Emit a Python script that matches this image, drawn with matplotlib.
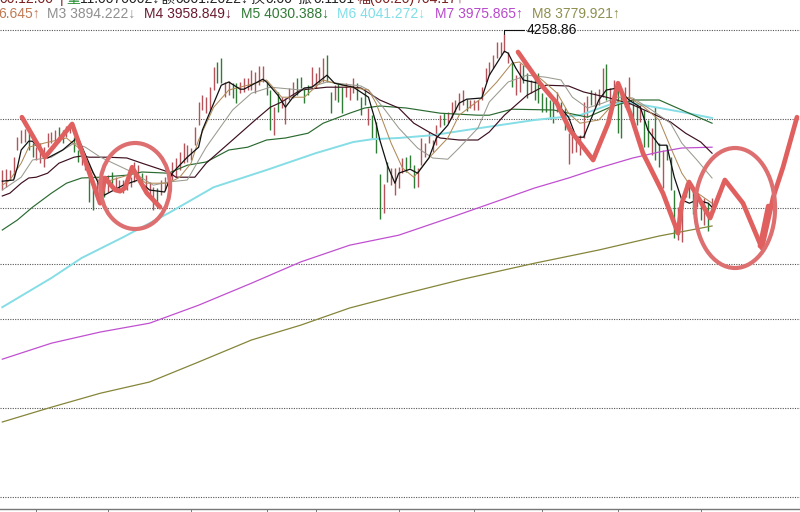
import matplotlib
matplotlib.use("Agg")
import matplotlib.pyplot as plt
from matplotlib.patches import Ellipse

plt.rcParams['font.family'] = ['Liberation Sans', 'DejaVu Sans']

high_a = [3920,3922,3920,3952,4002,4020,4022,4012,3987,3977,3987,3977,4012,4015,4020,4027,4020,4030,4037,4002,3970,3965,3957,3902,3895,3890,3877,3895,3907,3915,3902,3895,3895,3900,3902,3940,3932,3912,3907,3890,3877,3875,3895,3902,3920,3940,3950,3965]
low_a = [3870,3877,3895,3900,3970,3987,3990,3970,3952,3945,3937,3927,3977,3987,3990,3990,3987,4002,4012,3965,3940,3932,3920,3840,3820,3845,3837,3852,3865,3877,3875,3870,3862,3870,3877,3890,3895,3875,3862,3850,3820,3827,3857,3870,3882,3895,3902,3920]
dir_a = "rrrrrrrggrrrrrrggrrggrrggrrgrgrrrrrrrgrrrgrrrrrr"

high_b = [3987,3982,3975,4027,4090,4107,4102,4127,4177,4190,4200,4140,4142,4137,4137,4140,4150,4150,4170,4165,4180,4180,4140,4120,4077,4115,4102,4100,4125,4140,4150,4152,4125,4132,4177,4162,4177,4200,4207,4115,4132,4137,4127,4137,4132]
low_b = [3937,3940,3945,3982,4032,4070,4062,4070,4120,4137,4137,4102,4107,4100,4087,4112,4115,4120,4120,4112,4132,4140,4107,4020,4007,4065,4075,4035,4095,4100,4107,4125,4087,4107,4127,4125,4137,4140,4140,4062,4095,4090,4062,4102,4095]
dir_b = "rrrrrrrrrggrrggrrrrrrrggrgrrrrggggrrrrggrggrr"

high_c = [4150,4137,4102,4120,4075,4057,4040,3910,3885,3940,3925,3925,3927,3950,3952,3957,3932,3925,4000,3987,4015,3995,4032,4057,4062,4065,4090,4095,4112,4120,4097,4095,4095,4095,4127,4175,4190,4207,4240,4240,4258.86,4215,4190,4157,4187,4182,4162]
low_c = [4112,4095,4057,4082,4032,4000,3962,3797,3812,3890,3882,3857,3875,3912,3915,3925,3875,3877,3932,3952,3987,3965,3982,4027,4032,4037,4050,4065,4070,4082,4067,4075,4070,4070,4095,4140,4157,4175,4200,4207,4215,4187,4127,4107,4115,4137,4100]
dir_c = "rgggrgggrgrrrrgggrrrrrrrgrrrrrgrrrrrrrrrrrgrrgg"

high_d = [4145,4152,4162,4112,4102,4095,4095,4115,4090,4075,4012,4012,4000,4007,4090,4105,4120,4115,4122,4175,4185,4125,4145,4120,4112,4127,4152,4100,4087,4082,4070,4045,4025,4077,3987,3970,3982,3952,3870,3827,3832,3887,3890,3870,3862,3845,3850,3837,3850]
low_d = [4112,4095,4087,4065,4065,4052,4037,4065,4057,4020,3935,3962,3965,3957,4000,4052,4082,4077,4082,4102,4095,4070,4087,4012,4000,4077,4082,4045,4032,4040,3977,3977,3957,3945,3927,3875,3945,3870,3750,3745,3740,3852,3850,3810,3827,3795,3782,3767,3825]
dir_d = "rggggggrggrrrrrrgrrrgrrggrrggrggrggrgggrrrggrgrgr"

highs = high_a + high_b + high_c + high_d
lows = low_a + low_b + low_c + low_d
dirs = dir_a + dir_b + dir_c + dir_d

m1_i = [0,3,4,5,7,8,12,16,20,24,27,32,36,39,43,45,49,52,53,56,58,60,63,64,69,70,73,75,77,80,82,86,88,93,97,99,100,102,104,105,108,110,113,115,118,121,123,127,129,133,134,136,138,142,145,150,152,154,158,160,163,166,169,171,174,176,178,180,182,184,187,188]
m1_v = [3892,3895,3927,3970,3992,3992,3950,3970,4002,3915,3857,3882,3895,3870,3865,3912,3952,3977,4020,4087,4132,4140,4122,4122,4147,4140,4107,4077,4102,4125,4127,4157,4137,4127,4102,4037,3995,3932,3887,3912,3922,3912,3950,4000,4032,4087,4097,4100,4157,4217,4212,4175,4145,4137,4107,4052,4002,4002,4095,4120,4125,4095,4077,4020,3982,3982,3902,3845,3837,3845,3837,3827]
m2_i = [0,2,5,7,11,17,20,22,24,26,29,35,38,44,47,50,52,56,60,65,70,74,80,85,92,97,99,103,106,109,113,118,121,127,131,135,137,139,143,147,150,153,158,162,166,170,174,177,180,183,188]
m2_v = [3882,3895,3937,3977,3987,4000,3977,3952,3912,3887,3895,3912,3887,3887,3902,3937,3995,4077,4120,4132,4145,4102,4102,4145,4127,4120,4087,3987,3925,3902,3950,4000,4057,4100,4140,4187,4190,4175,4145,4112,4062,4037,4045,4087,4102,4077,4045,3977,3912,3870,3837]
m3_i = [0,5,8,13,19,22,26,35,40,44,49,54,61,66,71,79,86,95,97,101,105,110,114,118,121,126,129,134,139,144,148,151,155,159,163,167,172,177,180,184,188]
m3_v = [3870,3902,3945,3952,3987,3977,3952,3912,3882,3890,3895,3977,4070,4112,4127,4120,4140,4130,4120,4075,4025,3975,3950,3947,3975,4025,4090,4140,4157,4152,4145,4102,4075,4087,4102,4100,4070,4037,3987,3945,3900]
m4_i = [0,2,5,7,9,12,15,19,21,23,28,33,37,44,46,51,54,61,67,71,74,79,86,93,95,100,105,109,113,116,121,126,129,133,139,144,150,154,160,166,172,177,181,185,188]
m4_v = [3855,3862,3887,3900,3902,3912,3937,3952,3955,3952,3952,3950,3937,3915,3902,3902,3937,3995,4045,4077,4090,4120,4127,4127,4125,4095,4075,4037,4015,4000,3995,3995,4015,4057,4107,4132,4130,4115,4102,4087,4062,4040,4012,3990,3962]
m5_i = [0,4,8,13,17,21,26,33,37,44,49,54,60,65,70,75,81,85,92,96,100,107,116,126,129,135,146,155,161,167,174,180,188]
m5_v = [3770,3795,3827,3862,3887,3900,3902,3907,3915,3912,3932,3940,3970,3977,3995,4000,4012,4037,4062,4075,4080,4075,4062,4057,4057,4072,4070,4052,4077,4095,4095,4070,4037]
m6_i = [0,13,21,32,44,56,70,83,93,98,105,114,123,141,153,162,167,173,180,188]
m6_v = [3577,3650,3700,3752,3812,3877,3920,3962,3990,3997,4000,4007,4020,4045,4057,4087,4087,4077,4065,4050]
m7_i = [0,13,26,39,52,66,79,92,105,119,132,141,150,158,167,174,180,188]
m7_v = [3447,3487,3515,3537,3582,3637,3690,3732,3757,3802,3845,3875,3900,3925,3950,3965,3975,3977]
m8_i = [0,13,26,39,52,66,79,92,105,122,141,158,174,188]
m8_v = [3290,3327,3362,3390,3440,3495,3532,3575,3607,3647,3687,3720,3755,3780]

stroke1_i = [5.2,11.3,18.5,25.9,27.2,29.9,31.2,32.5,34.4,38.3,41.8]
stroke1_v = [4052,3952,4035,3837,3900,3870,3867,3875,3927,3862,3827]
stroke2_i = [136.6,142.4,146.9,150.4,156.5,160.5,163.1,166.3,169.7,175,179,180,181.9,184.3,187.5,191.4,196.2,201.2,204.2,206.8,210.5]
stroke2_v = [4215,4137,4087,4020,3945,4037,4137,4062,3962,3862,3762,3837,3890,3852,3800,3895,3837,3725,3852,3927,4052]
stroke3_i = [200.7,202.9]
stroke3_v = [3730,3830]
ring1 = (35.2, 3880, 18.5, 215)
ring2 = (194.1, 3825, 21.2, 300)

grid_levels = [4270, 4047.5, 3825, 3685, 3547.5, 3325, 3102.5]
time_ticks = [9, 28, 50, 70, 83, 105, 125, 143, 163, 185]
peak_label = "4258.86"
legend_items = [("6.645↑", "#c07a55", -2), ("M3 3894.222↓", "#8f8f8f", 47), ("M4 3958.849↓", "#6a1a30", 144),
                ("M5 4030.388↓", "#2f7a35", 241), ("M6 4041.272↓", "#7fdfe8", 337), ("M7 3975.865↑", "#b848cc", 435),
                ("M8 3779.921↑", "#8f8f50", 532)]
clipped_items = [("00.12.00", "#7a2020", 0), ("|", "#7a2020", 60), ("量", "#1f8a2a", 66), ("11.0070002↓", "#222222", 80),
                 ("额", "#222222", 160), ("0001.2022↓", "#222222", 176), ("换", "#222222", 250), ("0.00", "#222222", 266),
                 ("振", "#222222", 297), ("0.1101", "#222222", 313), ("幅(00.20)", "#7a2020", 356), ("/04.17↑", "#7a2020", 418)]

W, H = 800, 512
fig = plt.figure(figsize=(8, 5.12), dpi=100, facecolor="white")
ax = fig.add_axes([0, 3 / H, 1, 509 / H])
ax.set_xlim(-0.609, 211.3)
ax.set_ylim(3072.5, 4345)
for s in ("top", "left", "right"):
    ax.spines[s].set_visible(False)
ax.spines["bottom"].set_color("#777777")
ax.spines["bottom"].set_linewidth(1.0)
ax.set_yticks(grid_levels)
ax.set_xticks(time_ticks)
ax.tick_params(axis="y", length=0, labelleft=False)
ax.tick_params(axis="x", length=2.5, width=0.7, color="#777777", labelbottom=False)
ax.grid(axis="y", color="#555555", lw=0.8, ls=(0, (1, 1.2)))
ax.set_axisbelow(True)

colors = {"r": "#b5525a", "g": "#2f7d35"}
ax.vlines(range(len(highs)), lows, highs, colors=[colors[d] for d in dirs], lw=1.0, zorder=2)

ax.plot(m8_i, m8_v, color="#85853a", lw=0.9, zorder=3)
ax.plot(m7_i, m7_v, color="#c050d0", lw=0.9, zorder=3)
ax.plot(m6_i, m6_v, color="#85dde6", lw=1.4, zorder=3)
ax.plot(m5_i, m5_v, color="#2a6a30", lw=0.85, zorder=3)
ax.plot(m4_i, m4_v, color="#3d0f20", lw=0.85, zorder=3)
ax.plot(m3_i, m3_v, color="#9a9a90", lw=0.75, zorder=3)
ax.plot(m2_i, m2_v, color="#b08a58", lw=0.75, zorder=3)
ax.plot(m1_i, m1_v, color="#111111", lw=0.9, zorder=4)

red = "#e0605f"
for sx, sy in ((stroke1_i, stroke1_v), (stroke2_i, stroke2_v), (stroke3_i, stroke3_v)):
    ax.plot(sx, sy, color=red, lw=3.4, solid_joinstyle="round", solid_capstyle="round", zorder=6)
for cx, cy, w, h in (ring1, ring2):
    ax.add_patch(Ellipse((cx, cy), w, h, fill=False, ec="#de6f70", lw=3.0, zorder=6))

peak_i = highs.index(max(highs))
ax.annotate(peak_label, xy=(peak_i, max(highs)), xytext=(22, 4), textcoords="offset pixels",
            fontsize=10, color="#111111", va="center", ha="left", zorder=7,
            arrowprops=dict(arrowstyle="-", color="#111111", lw=0.8, shrinkA=0, shrinkB=0, relpos=(0, 0.5),
                            connectionstyle="angle,angleA=0,angleB=90,rad=0"))

for txt, col, x in legend_items:
    fig.text(x / W, 1 - 14 / H, txt, color=col, fontsize=10, va="center", ha="left")
for txt, col, x in clipped_items:
    fig.text(x / W, 1 - 3 / H, txt, color=col, fontsize=10, va="baseline", ha="left",
             family=["Liberation Sans", "Noto Sans CJK SC", "DejaVu Sans"])

fig.savefig("out.png", dpi=100, facecolor="white")
